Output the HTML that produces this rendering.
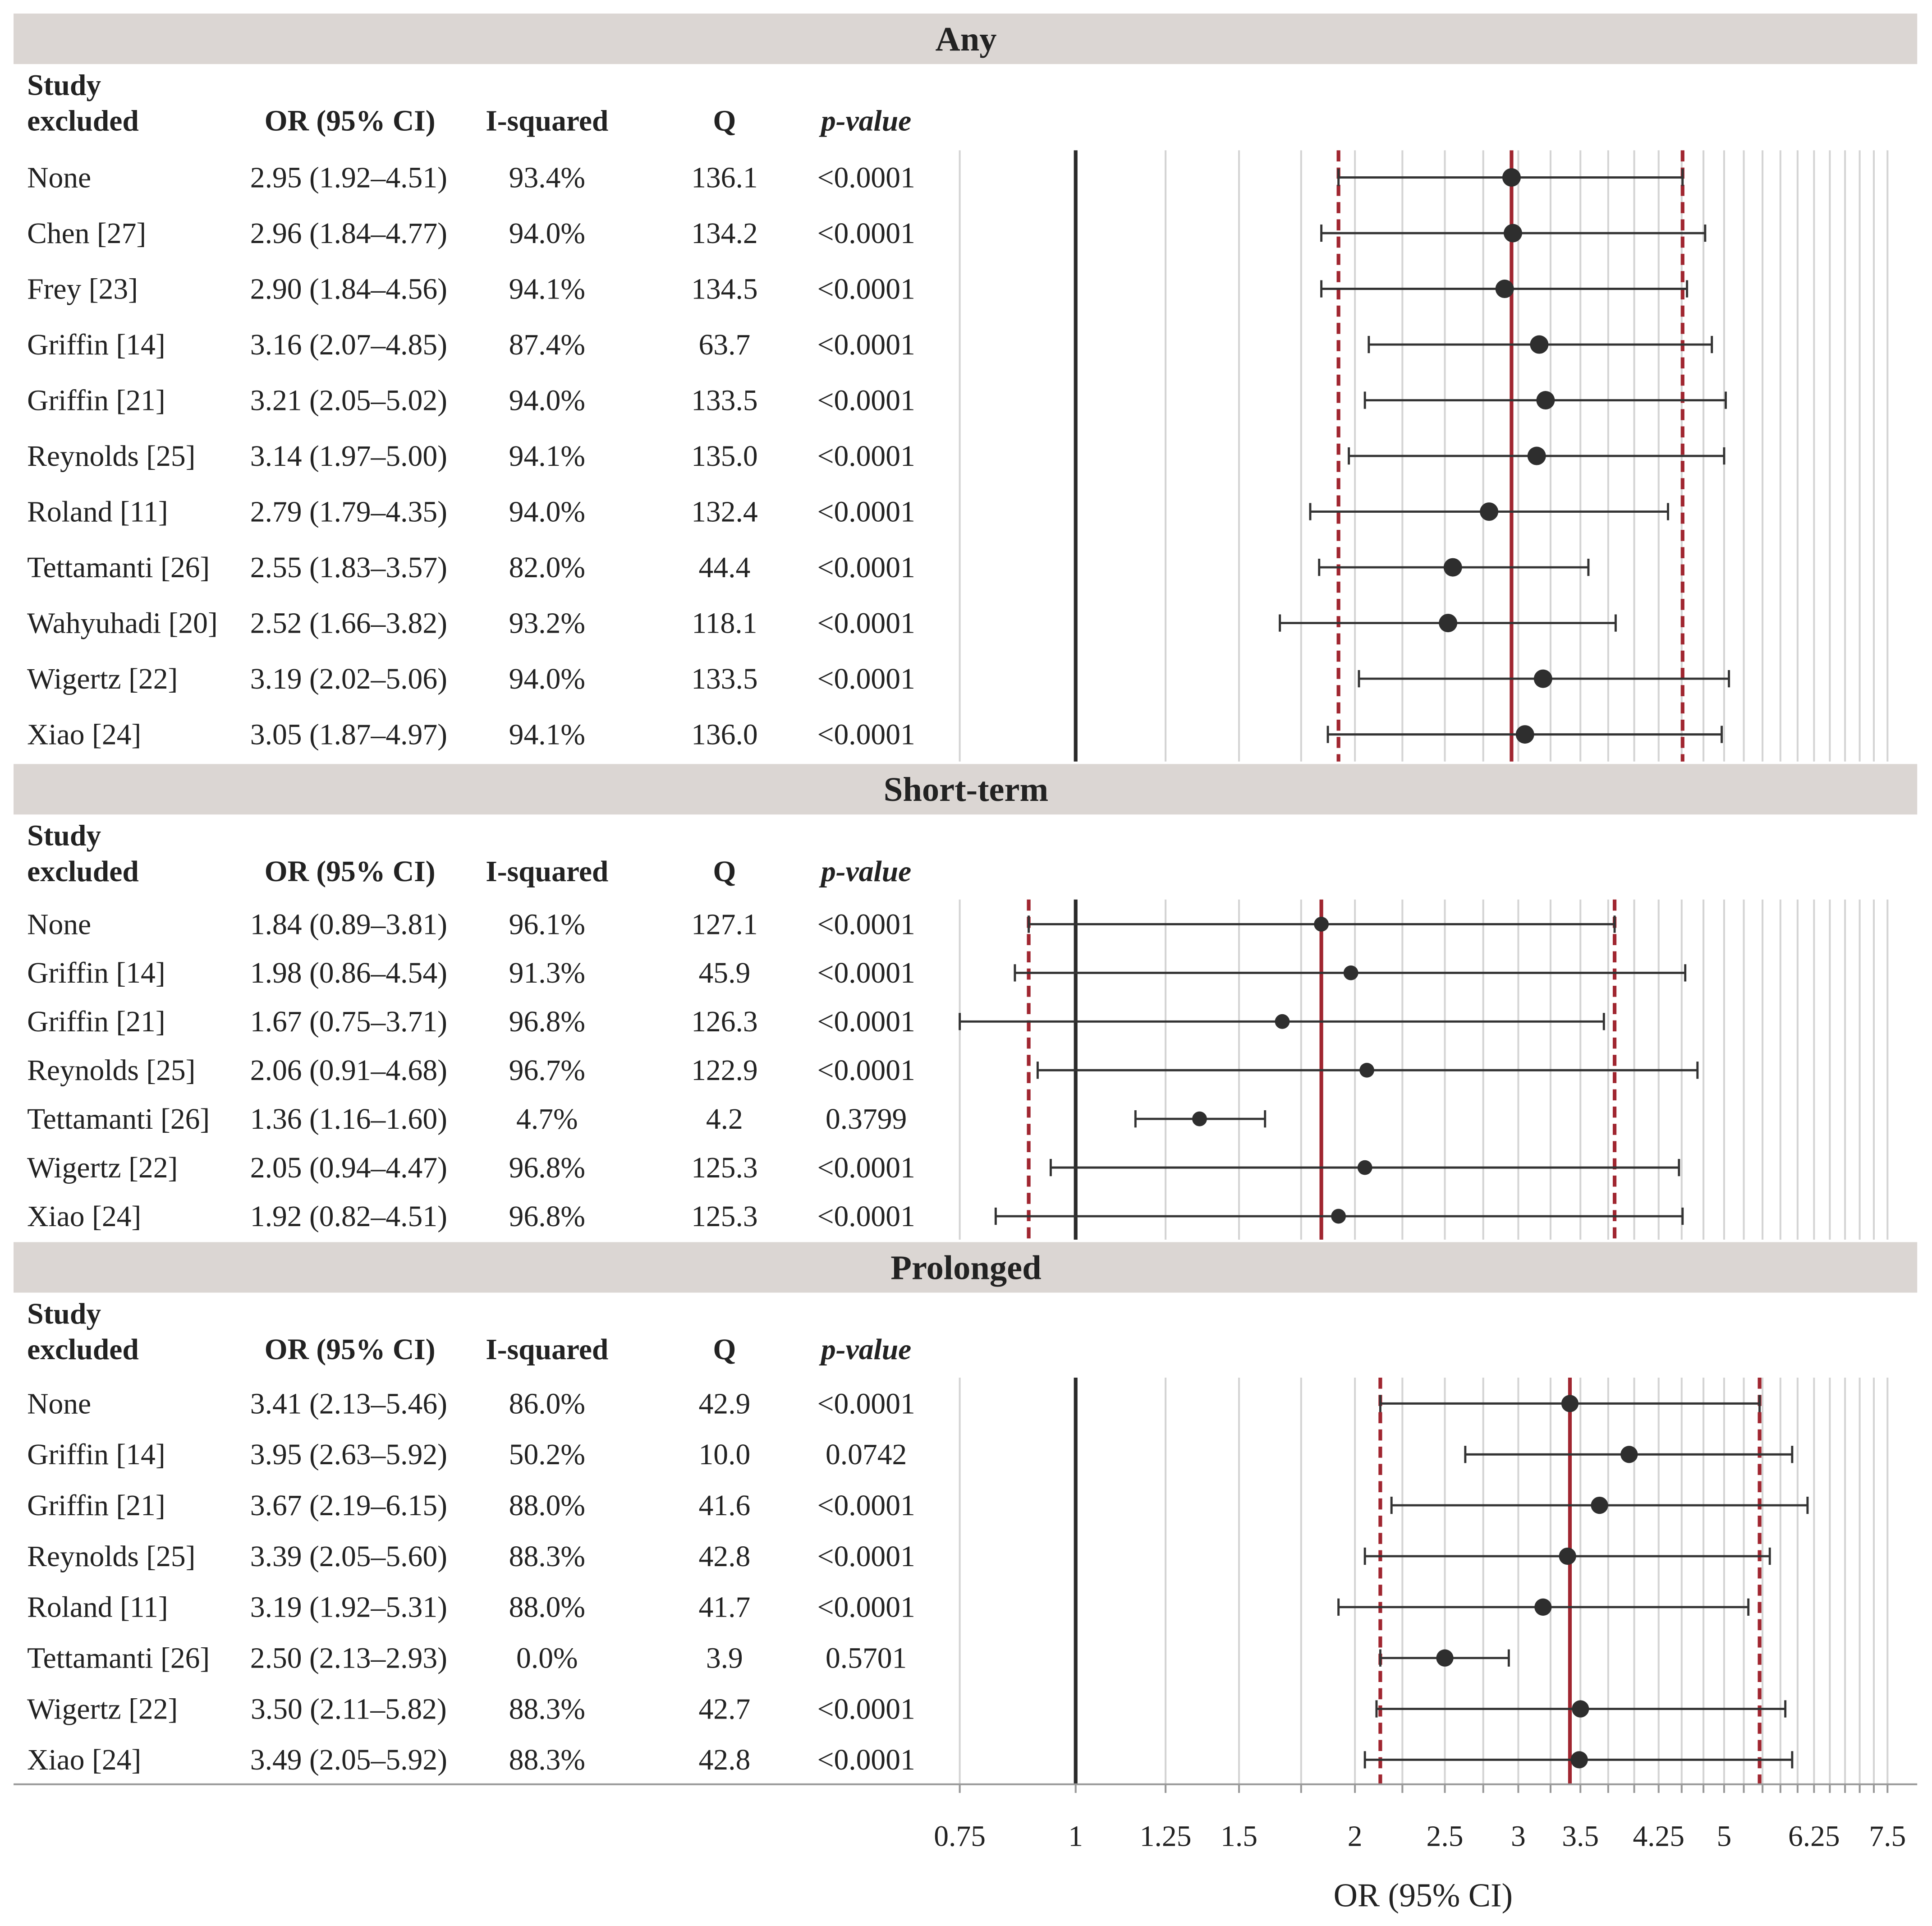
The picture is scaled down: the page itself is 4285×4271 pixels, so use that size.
<!DOCTYPE html>
<html><head><meta charset="utf-8"><style>
html,body{margin:0;padding:0;background:#fff;}
svg{display:block;}
text{font-family:"Liberation Serif",serif;fill:#222;}
</style></head><body>
<svg id="chart" width="4285" height="4271" viewBox="0 0 1568 1563" preserveAspectRatio="none" xmlns="http://www.w3.org/2000/svg"></svg>
<script>
const anyStudies=["None","Chen [27]","Frey [23]","Griffin [14]","Griffin [21]","Reynolds [25]","Roland [11]","Tettamanti [26]","Wahyuhadi [20]","Wigertz [22]","Xiao [24]"];
const anyOR=[2.95,2.96,2.90,3.16,3.21,3.14,2.79,2.55,2.52,3.19,3.05];
const anyLo=[1.92,1.84,1.84,2.07,2.05,1.97,1.79,1.83,1.66,2.02,1.87];
const anyHi=[4.51,4.77,4.56,4.85,5.02,5.00,4.35,3.57,3.82,5.06,4.97];
const anyI2=["93.4%","94.0%","94.1%","87.4%","94.0%","94.1%","94.0%","82.0%","93.2%","94.0%","94.1%"];
const anyQ=["136.1","134.2","134.5","63.7","133.5","135.0","132.4","44.4","118.1","133.5","136.0"];
const anyP=["<0.0001","<0.0001","<0.0001","<0.0001","<0.0001","<0.0001","<0.0001","<0.0001","<0.0001","<0.0001","<0.0001"];
const shortStudies=["None","Griffin [14]","Griffin [21]","Reynolds [25]","Tettamanti [26]","Wigertz [22]","Xiao [24]"];
const shortOR=[1.84,1.98,1.67,2.06,1.36,2.05,1.92];
const shortLo=[0.89,0.86,0.75,0.91,1.16,0.94,0.82];
const shortHi=[3.81,4.54,3.71,4.68,1.60,4.47,4.51];
const shortI2=["96.1%","91.3%","96.8%","96.7%","4.7%","96.8%","96.8%"];
const shortQ=["127.1","45.9","126.3","122.9","4.2","125.3","125.3"];
const shortP=["<0.0001","<0.0001","<0.0001","<0.0001","0.3799","<0.0001","<0.0001"];
const longStudies=["None","Griffin [14]","Griffin [21]","Reynolds [25]","Roland [11]","Tettamanti [26]","Wigertz [22]","Xiao [24]"];
const longOR=[3.41,3.95,3.67,3.39,3.19,2.50,3.50,3.49];
const longLo=[2.13,2.63,2.19,2.05,1.92,2.13,2.11,2.05];
const longHi=[5.46,5.92,6.15,5.60,5.31,2.93,5.82,5.92];
const longI2=["86.0%","50.2%","88.0%","88.3%","88.0%","0.0%","88.3%","88.3%"];
const longQ=["42.9","10.0","41.6","42.8","41.7","3.9","42.7","42.8"];
const longP=["<0.0001","0.0742","<0.0001","<0.0001","<0.0001","0.5701","<0.0001","<0.0001"];
const gridVals=[0.75,1.25,1.5,1.75,2,2.25,2.5,2.75,3,3.25,3.5,3.75,4,4.25,4.5,4.75,5,5.25,5.5,5.75,6,6.25,6.5,6.75,7,7.25,7.5];
const tickLabels=["0.75","1","1.25","1.5","2","2.5","3","3.5","4.25","5","6.25","7.5"];

const svg=document.getElementById('chart');
const NS="http://www.w3.org/2000/svg";
const FS=24;
function X(v){return 873+327*Math.log(v);}
function mk(tag,attrs,parent){const e=document.createElementNS(NS,tag);for(const k in attrs)e.setAttribute(k,attrs[k]);(parent||svg).appendChild(e);return e;}
function txt(s,x,y,anchor,bold,italic){const t=mk('text',{x:x,y:y,'font-size':FS,'text-anchor':anchor});if(bold)t.setAttribute('font-weight','bold');if(italic)t.setAttribute('font-style','italic');t.textContent=s;return t;}

const panels=[
 {title:"Any",band:11,studies:anyStudies,or:anyOR,lo:anyLo,hi:anyHi,i2:anyI2,q:anyQ,p:anyP,row0:144,step:45.2,gy0:122,gy1:618,r:7.5},
 {title:"Short-term",band:620,studies:shortStudies,or:shortOR,lo:shortLo,hi:shortHi,i2:shortI2,q:shortQ,p:shortP,row0:750,step:39.5,gy0:730,gy1:1006,r:6},
 {title:"Prolonged",band:1008,studies:longStudies,or:longOR,lo:longLo,hi:longHi,i2:longI2,q:longQ,p:longP,row0:1139,step:41.3,gy0:1118,gy1:1448,r:7}
];
panels.forEach((P,pi)=>{
 const g=mk('g',{});
 
 
 const band=mk('rect',{x:11,y:P.band,width:1545,height:41,fill:'#dbd6d3'},g);
 
 
 const tt=txt(P.title,784,P.band+30,'middle',true);tt.setAttribute('font-size',28);g.appendChild(tt);
 
 
 const hy=P.band+66;
 [["Study",22,hy,'start'],["excluded",22,hy+29,'start'],["OR (95% CI)",284,hy+29,'middle'],["I-squared",444,hy+29,'middle'],["Q",588,hy+29,'middle']].forEach(h=>{const t=txt(h[0],h[1],h[2],h[3],true);g.appendChild(t);});
 const ph=txt("p-value",703,hy+29,'middle',true,true);g.appendChild(ph);
 
 
 gridVals.forEach(v=>{const l=mk('line',{x1:X(v),x2:X(v),y1:P.gy0,y2:P.gy1,stroke:'#d4d4d4','stroke-width':1.5},g);});
 const ref=mk('line',{x1:X(1),x2:X(1),y1:P.gy0,y2:P.gy1,stroke:'#2a2a2a','stroke-width':3},g);
 
 
 const pl=mk('line',{x1:X(P.or[0]),x2:X(P.or[0]),y1:P.gy0,y2:P.gy1,stroke:'#a02630','stroke-width':3},g);
 
 
 [P.lo[0],P.hi[0]].forEach(v=>{const d=mk('line',{x1:X(v),x2:X(v),y1:P.gy0,y2:P.gy1,stroke:'#a02630','stroke-width':3,'stroke-dasharray':'9,5'},g);});
 P.studies.forEach((s,i)=>{
  const y=P.row0+i*P.step, ty=y+8;
  const cells=[[s,22,'start'],[P.or[i].toFixed(2)+" ("+P.lo[i].toFixed(2)+"\u2013"+P.hi[i].toFixed(2)+")",283,'middle'],[P.i2[i],444,'middle'],[P.q[i],588,'middle'],[P.p[i],703,'middle']];
  cells.forEach((c,ci)=>{const t=txt(c[0],c[1],ty,c[2]);g.appendChild(t);});
  const ci=mk('line',{x1:X(P.lo[i]),x2:X(P.hi[i]),y1:y,y2:y,stroke:'#333','stroke-width':1.8},g);
  
  
  [P.lo[i],P.hi[i]].forEach(v=>{const c=mk('line',{x1:X(v),x2:X(v),y1:y-7,y2:y+7,stroke:'#333','stroke-width':1.8},g);});
  const dot=mk('circle',{cx:X(P.or[i]),cy:y,r:P.r,fill:'#2e2e2e'},g);
  
  
 });
});
const ax=mk('line',{x1:11,x2:1556,y1:1448,y2:1448,stroke:'#999','stroke-width':1.5});


gridVals.concat([1]).forEach(v=>{const t=mk('line',{x1:X(v),x2:X(v),y1:1448,y2:1455,stroke:'#999','stroke-width':1.5});});
tickLabels.forEach(s=>{const t=txt(s,X(parseFloat(s)),1498,'middle');});
const xt=txt("OR (95% CI)",1155,1547,'middle');xt.setAttribute('font-size',27);


</script>
</body></html>
